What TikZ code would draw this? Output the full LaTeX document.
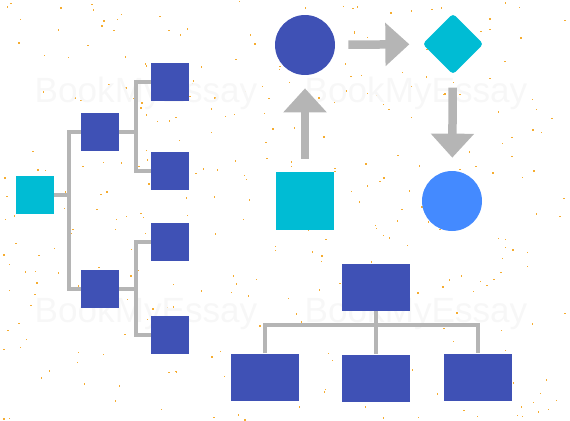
\documentclass[tikz,border=0pt]{standalone}
\usepackage{fontspec}
\setsansfont{Liberation Sans}
\usetikzlibrary{arrows.meta,shapes.geometric,positioning}

\definecolor{indigo}{HTML}{3F51B5}
\definecolor{cyanbox}{HTML}{00BCD4}
\definecolor{skyblue}{HTML}{448AFF}
\definecolor{linkgray}{HTML}{B5B5B5}
\definecolor{speckle}{HTML}{F5AC30}

\tikzset{
  box/.style={rectangle, fill=indigo, inner sep=0pt, minimum size=0.76cm},
  rootbox/.style={box, fill=cyanbox},
  widebox/.style={rectangle, fill=indigo, inner sep=0pt, minimum width=1.36cm, minimum height=0.94cm},
  dot/.style={circle, inner sep=0pt, minimum size=1.2cm},
  sqbox/.style={rectangle, fill=cyanbox, inner sep=0pt, minimum size=1.16cm},
  decision/.style={diamond, fill=cyanbox, inner sep=0pt, minimum size=1.22cm, rounded corners=2pt},
  link/.style={draw=linkgray, line width=0.08cm},
  flow/.style={draw=linkgray, line width=0.17cm, shorten <=0.26cm, shorten >=0.26cm,
    -{Triangle[width=0.84cm,length=0.48cm]}},
  wmark/.style={text=black!3, font=\sffamily\fontsize{20}{24}\selectfont}
}

\begin{document}
\begin{tikzpicture}[x=0.02cm, y=-0.02cm]
\useasboundingbox (0,0) rectangle (570,420);

% background specks and watermark
\pgfmathsetseed{11}
\foreach \i in {1,...,340}
  \fill[speckle] (570*rnd, 420*rnd) rectangle ++(1.4,1.4);
\node[wmark] (wm1) at (146,93) {BookMyEssay};
\node[wmark] (wm2) at (416,93) {BookMyEssay};
\node[wmark] (wm3) at (146,313) {BookMyEssay};
\node[wmark] (wm4) at (416,313) {BookMyEssay};

% tree on the left
\node[rootbox] (root) at (35,195) {};
\node[box] (a1) at (100,132) {};
\node[box] (a2) at (100,289) {};
\node[box] (b1) at (170,82) {};
\node[box] (b2) at (170,171) {};
\node[box] (b3) at (170,242) {};
\node[box] (b4) at (170,335) {};

\path (root.east) ++(15,0) coordinate (j0);
\path (a1.east) ++(17,0) coordinate (j1);
\path (a2.east) ++(17,0) coordinate (j2);
\draw[link] (root.east) -- (j0);
\draw[link] (a1.west) -| (j0) |- (a2.west);
\draw[link] (a1.east) -- (j1);
\draw[link] (b1.west) -| (j1) |- (b2.west);
\draw[link] (a2.east) -- (j2);
\draw[link] (b3.west) -| (j2) |- (b4.west);

% flow on the top right
\node[dot, fill=indigo] (start) at (305,45) {};
\node[decision] (choice) at (453,44) {};
\node[sqbox] (input) at (305,201) {};
\node[dot, fill=skyblue] (finish) at (452,201) {};
\draw[flow] (input) -- (start);
\draw[flow] (start) -- (choice);
\draw[flow] (choice) -- (finish);

% org chart at the bottom
\node[widebox] (head) at (376,287) {};
\node[widebox] (left) at (265,377) {};
\node[widebox] (mid) at (376,378) {};
\node[widebox] (right) at (478,377) {};
\path (head.south) ++(0,14) coordinate (bus);
\draw[link] (head.south) -- (mid.north);
\draw[link] (left.north) |- (bus) -| (right.north);
\end{tikzpicture}
\end{document}
